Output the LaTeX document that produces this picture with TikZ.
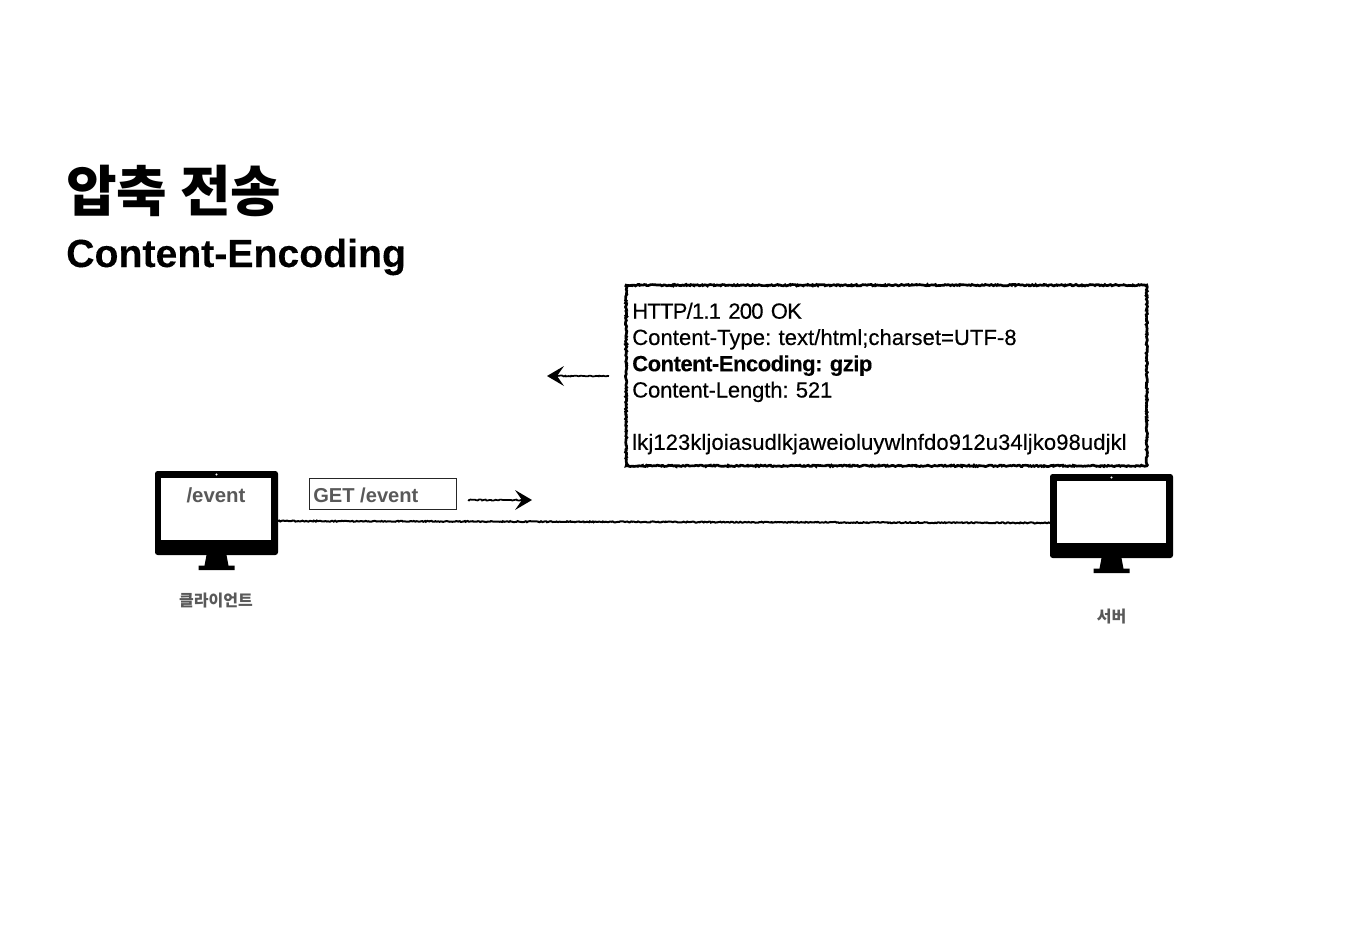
\documentclass[tikz,border=0pt]{standalone}
\usepackage{fontspec}
\setmainfont{Liberation Sans}
\newfontfamily\cjk{Noto Sans CJK KR}
\newfontfamily\heavyfont[FakeBold=0.35,BoldFont={Liberation Sans Bold},BoldFeatures={FakeBold=0.2}]{Liberation Sans}
\usetikzlibrary{arrows.meta,decorations.pathmorphing}
\definecolor{greytext}{HTML}{595959}
\newcommand{\ptfont}[1]{\fontsize{#1}{#1}\selectfont}
\newcommand{\tracked}[1]{\addfontfeature{LetterSpace=#1}}
\tikzset{
  x=0.75pt,y=-0.75pt,
  rough/.style={line width=2pt,decorate,decoration={random steps,segment length=1pt,amplitude=0.55pt}},
  roughline/.style={line width=1.5pt,decorate,decoration={random steps,segment length=1pt,amplitude=0.4pt}},
  roughthin/.style={line width=1.3pt,decorate,decoration={random steps,segment length=1pt,amplitude=0.4pt}},
  monbody/.style={fill=black,draw=none,rounded corners=2pt,minimum width=92.25pt,minimum height=63pt,inner sep=0pt,outer sep=0pt},
  monscreen/.style={fill=white,draw=none,minimum width=82pt,minimum height=46.5pt,inner sep=0pt},
  labeltext/.style={text=greytext,inner sep=0pt},
}
\newcommand{\monitorparts}[1]{%
  \fill ([xshift=-7.5pt]#1.south) -- ([xshift=7.5pt]#1.south) -- ([xshift=9pt,yshift=-8pt]#1.south) -- ([xshift=13.5pt,yshift=-8pt]#1.south) -- ([xshift=13.5pt,yshift=-11.25pt]#1.south) -- ([xshift=-13.5pt,yshift=-11.25pt]#1.south) -- ([xshift=-13.5pt,yshift=-8pt]#1.south) -- ([xshift=-9pt,yshift=-8pt]#1.south) -- cycle;
  \fill[white] ([yshift=-2.6pt]#1.north) circle (0.9pt);
}
\begin{document}
\begin{tikzpicture}
\useasboundingbox (0,0) rectangle (1354,950);
% titles
\node[anchor=base west,inner sep=0pt,font={\cjk\bfseries\ptfont{41.25}}] (title) at (66,211) {압축 전송};
\node[anchor=base west,inner sep=0pt,font={\heavyfont\bfseries\ptfont{29.4}}] (subtitle) at (66,267) {Content-Encoding};
% monitors
\node[monbody] (client) at (216.5,513) {};
\monitorparts{client}
\node[monscreen] (clientscreen) at (216,509) {};
\node[monbody] (server) at (1111.5,516) {};
\monitorparts{server}
\node[monscreen] (serverscreen) at (1111.5,512) {};
\node[labeltext,anchor=base,font={\bfseries\ptfont{15.3}}] (clienturl) at (216,502) {/event};
\node[labeltext,anchor=base,font={\cjk\bfseries\ptfont{12}}] (clientlabel) at (216,606) {클라이언트};
\node[labeltext,anchor=base,font={\cjk\bfseries\ptfont{12}}] (serverlabel) at (1111.5,622) {서버};
% connection
\draw[roughline] ([yshift=-6pt]client.east) -- ([yshift=-5.25pt]server.west);
% request
\node[draw=black!85,line width=0.75pt,minimum width=110.25pt,minimum height=23.25pt,inner sep=0pt,outer sep=0pt] (reqbox) at (382.5,493.5) {};
\node[labeltext,anchor=base west,font={\bfseries\ptfont{15.1}}] (reqtext) at (313,502) {GET /event};
\coordinate (reqfrom) at (468,500);
\coordinate (reqto) at (532,500);
\draw[roughthin] (reqfrom) -- ([xshift=-6pt]reqto);
\fill (reqto) -- (515,490) -- (522,500) -- (515,510) -- cycle;
% response
\node[draw,rough,minimum width=390.5pt,minimum height=135.5pt,inner sep=0pt,outer sep=0pt] (resbox) at (886.5,375.5) {};
\node[anchor=north west,inner sep=0pt,align=left,font={\heavyfont\frenchspacing\ptfont{16.5}},text width=385pt] (restext) at (632,302.5) {%
  \baselineskip=19.7pt {\tracked{-3.5}HTTP/1.1 200 OK}\\
  {\tracked{0.3}Content-Type: text/html;charset=UTF-8}\\
  {\bfseries\tracked{-2.2}Content-Encoding: gzip}\\
  {\tracked{-0.5}Content-Length: 521}\\
  \mbox{}\\[3pt]
  {\tracked{0.5}lkj123kljoiasudlkjaweioluywlnfdo912u34ljko98udjkl}};
\coordinate (resfrom) at (609,376);
\coordinate (resto) at (547,376);
\draw[roughthin] (resfrom) -- ([xshift=6pt]resto);
\fill (resto) -- (564,366) -- (557,376) -- (564,386) -- cycle;
\end{tikzpicture}
\end{document}
